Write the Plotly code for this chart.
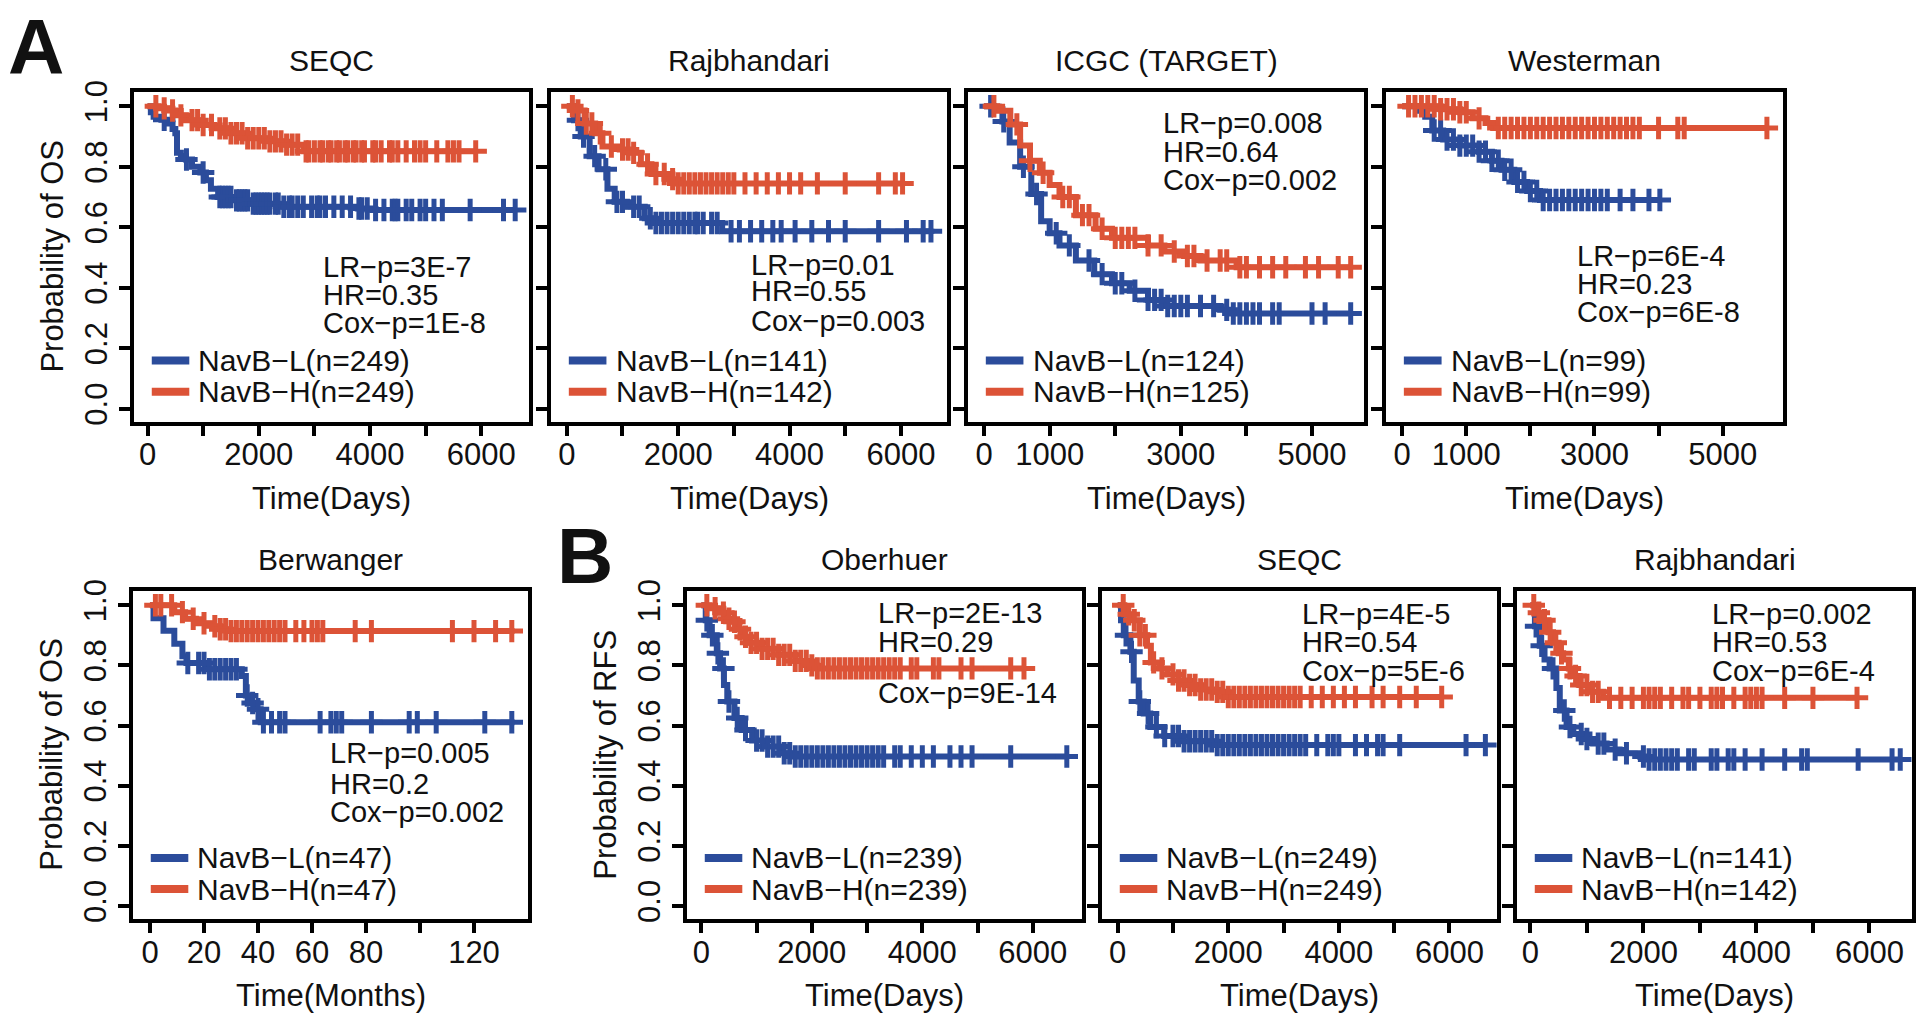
import numpy as np
import plotly.graph_objects as go

BLUE = "#2B4C9B"
RED = "#DC5337"
FONT = "Liberation Sans"
INK = "#111111"

# ---------------- data ----------------
# A: SEQC (OS, days)
A1_L_T = [0, 60, 110, 250, 370, 450, 500, 530, 600, 690, 800, 950, 1050, 1140, 1270, 1530, 1850, 2360,
          3780, 4040]
A1_L_S = [1.0, 0.98, 0.965, 0.955, 0.943, 0.925, 0.911, 0.846, 0.835, 0.824, 0.80, 0.781, 0.755, 0.727,
          0.700, 0.689, 0.678, 0.668, 0.662, 0.657]
A1_L_END = 6610
A1_L_CENS = [300, 700, 1000, 1300, 1350, 1400, 1450, 1500, 1600, 1650, 1700, 1750, 1800, 1900, 1950, 2000,
             2050, 2100, 2150, 2200, 2300, 2350, 2450, 2550, 2600, 2700, 2800, 2950, 3050, 3100, 3200,
             3350, 3500, 3650, 3800, 3850, 3950, 4100, 4250, 4400, 4450, 4500, 4650, 4750, 4900,
             5000, 5150, 5300, 5800, 6400, 6610]
A1_H_T = [0, 200, 370, 500, 690, 950, 1200, 1460, 1720, 2170, 2490, 2810]
A1_H_S = [1.0, 0.993, 0.986, 0.97, 0.954, 0.938, 0.927, 0.911, 0.894, 0.884, 0.873, 0.851]
A1_H_END = 5900
A1_H_CENS = [150, 300, 450, 600, 800, 900, 1000, 1150, 1300, 1400, 1500, 1600, 1700, 1800, 1900, 2000,
             2100, 2200, 2300, 2400, 2500, 2600, 2700, 2850, 2900, 3000, 3100, 3150, 3250, 3300, 3400,
             3450, 3550, 3600, 3700, 3750, 3850, 3900, 4050, 4100, 4200, 4350, 4400, 4500, 4650,
             4800, 4900, 5000, 5200, 5400, 5500, 5600, 5900]

# A: Rajbhandari (OS, days)
A2_L_T = [0, 130, 250, 410, 570, 730, 860, 1080, 1400, 1520, 2790]
A2_L_S = [1.0, 0.954, 0.900, 0.835, 0.792, 0.727, 0.684, 0.668, 0.630, 0.614, 0.587]
A2_L_END = 6540
A2_L_CENS = [200, 300, 500, 700, 900, 1000, 1200, 1300, 1500, 1600, 1700, 1800, 1900, 2000, 2100, 2200,
             2300, 2350, 2450, 2600, 2700, 2950, 3100, 3300, 3500, 3700, 3850, 4100, 4400, 4700, 5000,
             5600, 6100, 6400, 6540]
A2_H_T = [0, 130, 320, 510, 640, 950, 1140, 1330, 1520, 1840, 1970]
A2_H_S = [1.0, 0.986, 0.943, 0.911, 0.867, 0.857, 0.846, 0.808, 0.776, 0.759, 0.745]
A2_H_END = 6030
A2_H_CENS = [100, 200, 350, 450, 600, 800, 1000, 1100, 1200, 1450, 1600, 1750, 1900, 2000, 2100, 2200,
             2300, 2400, 2500, 2600, 2700, 2800, 2900, 3000, 3200, 3400, 3600, 3800, 4000, 4200, 4500,
             5000, 5600, 5900, 6030]

# A: ICGC (TARGET) (OS, days)
A3_L_T = [0, 150, 280, 390, 550, 720, 870, 1000, 1150, 1400, 1680, 1950, 2220, 2500, 2760, 3600, 3750]
A3_L_S = [1.0, 0.99, 0.95, 0.88, 0.80, 0.71, 0.62, 0.58, 0.54, 0.49, 0.445, 0.415, 0.39, 0.36, 0.34,
          0.327, 0.315]
A3_L_END = 5590
A3_L_CENS = [100, 300, 600, 800, 1100, 1300, 1600, 1800, 2000, 2100, 2300, 2500, 2600, 2700, 2800, 2900,
             3000, 3100, 3300, 3500, 3700, 3800, 3900, 4000, 4100, 4200, 4400, 4500, 5000, 5200, 5590]
A3_H_T = [0, 200, 400, 550, 700, 850, 1000, 1150, 1400, 1700, 1950, 2500, 2750, 3050, 3300, 3850]
A3_H_S = [1.0, 0.985, 0.94, 0.87, 0.82, 0.78, 0.74, 0.70, 0.64, 0.595, 0.565, 0.54, 0.52, 0.505,
          0.49, 0.468]
A3_H_END = 5590
A3_H_CENS = [150, 500, 700, 900, 1200, 1300, 1500, 1600, 1800, 2000, 2100, 2200, 2300, 2500, 2700, 2900,
             3100, 3200, 3400, 3600, 3700, 3900, 4000, 4200, 4400, 4600, 4900, 5100, 5400, 5590]

# A: Westerman (OS, days)
A4_L_T = [0, 250, 360, 470, 640, 900, 1200, 1400, 1550, 1750, 1950, 2150]
A4_L_S = [1.0, 0.985, 0.965, 0.92, 0.89, 0.87, 0.85, 0.82, 0.79, 0.75, 0.72, 0.69]
A4_L_END = 4020
A4_L_CENS = [500, 600, 700, 800, 900, 1000, 1100, 1200, 1300, 1400, 1500, 1600, 1700, 1800, 1900, 2000,
             2100, 2200, 2300, 2400, 2500, 2600, 2700, 2800, 2900, 3000, 3100, 3200, 3400, 3600, 3850,
             4020]
A4_H_T = [0, 600, 900, 1100, 1300, 1420]
A4_H_S = [1.0, 0.99, 0.98, 0.96, 0.945, 0.928]
A4_H_END = 5690
A4_H_CENS = [100, 200, 300, 400, 500, 600, 700, 800, 900, 1000, 1200, 1500, 1600, 1700, 1800, 1900, 2000,
             2100, 2200, 2300, 2400, 2500, 2600, 2700, 2800, 2900, 3000, 3100, 3200, 3300, 3400, 3500,
             3600, 3700, 4000, 4300, 4400, 5690]

# A: Berwanger (OS, months)
B1_L_T = [0, 1.3, 5, 9, 12, 13.5, 21, 34, 35.5, 37, 38.5, 41]
B1_L_S = [1.0, 0.957, 0.915, 0.872, 0.83, 0.808, 0.787, 0.765, 0.70, 0.675, 0.654, 0.611]
B1_L_END = 135
B1_L_CENS = [14, 18, 20, 22, 24, 26, 28, 30, 32, 36, 38, 40, 42, 45, 48, 50, 63, 67, 69, 71, 82, 96,
             99, 106, 124, 134]
B1_H_T = [0, 9, 13, 17, 23, 26, 29]
B1_H_S = [1.0, 0.977, 0.955, 0.94, 0.93, 0.92, 0.914]
B1_H_END = 135
B1_H_CENS = [2, 4, 8, 12, 16, 20, 24, 26, 28, 30, 32, 34, 36, 38, 40, 42, 44, 46, 48, 50, 54, 57, 60,
             62, 64, 76, 82, 112, 120, 128, 134]

# B: Oberhuer (RFS, days)
B2_L_T = [0, 80, 150, 280, 340, 410, 470, 600, 730, 920, 1180, 1440, 1640]
B2_L_S = [1.0, 0.95, 0.90, 0.84, 0.79, 0.735, 0.68, 0.625, 0.585, 0.55, 0.53, 0.508, 0.497]
B2_L_END = 6615
B2_L_CENS = [100, 200, 300, 400, 500, 650, 800, 1000, 1100, 1200, 1300, 1400, 1500, 1600, 1700, 1800, 1900,
             2000, 2100, 2200, 2300, 2400, 2500, 2600, 2700, 2800, 2900, 3000, 3100, 3200, 3300, 3500,
             3600, 3800, 4000, 4200, 4500, 4700, 4900, 5600, 6615]
B2_H_T = [0, 150, 300, 450, 550, 650, 750, 850, 1100, 1400, 1700, 1950, 2100]
B2_H_S = [1.0, 0.99, 0.975, 0.955, 0.945, 0.92, 0.895, 0.875, 0.855, 0.835, 0.815, 0.80, 0.79]
B2_H_END = 5840
B2_H_CENS = [100, 250, 400, 500, 600, 700, 800, 900, 1000, 1100, 1200, 1300, 1400, 1500, 1600, 1700, 1800,
             1900, 2000, 2100, 2200, 2300, 2400, 2500, 2600, 2700, 2800, 2900, 3000, 3100, 3200, 3300,
             3400, 3500, 3600, 3800, 3900, 4200, 4300, 4700, 4900, 5600, 5840]

# B: SEQC (RFS, days)
B3_L_T = [0, 60, 110, 230, 290, 380, 470, 590, 840, 1140, 1750]
B3_L_S = [1.0, 0.95, 0.90, 0.845, 0.75, 0.68, 0.64, 0.595, 0.565, 0.548, 0.535]
B3_L_END = 6650
B3_L_CENS = [150, 250, 400, 550, 700, 850, 1000, 1100, 1200, 1300, 1400, 1500, 1600, 1700, 1800, 1900,
             2000, 2100, 2200, 2300, 2400, 2500, 2600, 2700, 2800, 2900, 3000, 3100, 3200, 3300, 3400,
             3600, 3800, 3900, 4000, 4300, 4500, 4700, 4800, 5100, 6300, 6650]
B3_H_T = [0, 120, 230, 400, 530, 600, 750, 900, 1100, 1250, 1500, 1750, 1980]
B3_H_S = [1.0, 0.97, 0.95, 0.90, 0.865, 0.81, 0.79, 0.77, 0.75, 0.735, 0.72, 0.712, 0.695]
B3_H_END = 5860
B3_H_CENS = [100, 200, 300, 400, 500, 650, 800, 1000, 1100, 1200, 1300, 1400, 1500, 1600, 1700, 1800,
             1900, 2000, 2100, 2200, 2300, 2400, 2500, 2600, 2700, 2800, 2900, 3000, 3100, 3200, 3300,
             3500, 3700, 3900, 4100, 4300, 4600, 4800, 5100, 5400, 5860]

# B: Rajbhandari (RFS, days)
B4_L_T = [0, 80, 165, 250, 340, 460, 520, 640, 760, 950, 1110, 1350, 1580, 1940, 2060]
B4_L_S = [1.0, 0.93, 0.865, 0.82, 0.79, 0.725, 0.65, 0.595, 0.572, 0.555, 0.54, 0.52, 0.508, 0.497,
          0.487]
B4_L_END = 6545
B4_L_CENS = [100, 200, 400, 600, 700, 900, 1000, 1200, 1300, 1500, 1700, 2000, 2100, 2200, 2300, 2400,
             2500, 2600, 2800, 2900, 3200, 3300, 3500, 3600, 3800, 4100, 4500, 4800, 4900, 5800, 6400,
             6545]
B4_H_T = [0, 120, 220, 320, 400, 500, 580, 680, 760, 870, 1050, 1290]
B4_H_S = [1.0, 0.975, 0.95, 0.91, 0.875, 0.84, 0.82, 0.79, 0.765, 0.735, 0.712, 0.692]
B4_H_END = 5780
B4_H_CENS = [60, 150, 250, 350, 450, 550, 700, 800, 900, 1000, 1100, 1200, 1400, 1600, 1800, 2000, 2100,
             2200, 2300, 2500, 2700, 2800, 3000, 3200, 3300, 3400, 3600, 3800, 3900, 4000, 4100, 4500,
             5000, 5780]

# tick labels
DAY_TICKS_6K = [0, 1000, 2000, 3000, 4000, 5000, 6000]
DAY_LABELS_6K = ["0", "", "2000", "", "4000", "", "6000"]
DAY_TICKS_5K = [0, 1000, 2000, 3000, 4000, 5000]
DAY_LABELS_5K = ["0", "1000", "", "3000", "", "5000"]
MONTH_TICKS = [0, 20, 40, 60, 80, 100, 120]
MONTH_LABELS = ["0", "20", "40", "60", "80", "", "120"]
PROB_TICKS = [0, 0.2, 0.4, 0.6, 0.8, 1.0]
PROB_LABELS = ["0.0", "0.2", "0.4", "0.6", "0.8", "1.0"]

TITLES = ["SEQC", "Rajbhandari", "ICGC (TARGET)", "Westerman", "Berwanger", "Oberhuer", "SEQC", "Rajbhandari"]
STATS = [
    ["LR−p=3E-7", "HR=0.35", "Cox−p=1E-8"],
    ["LR−p=0.01", "HR=0.55", "Cox−p=0.003"],
    ["LR−p=0.008", "HR=0.64", "Cox−p=0.002"],
    ["LR−p=6E-4", "HR=0.23", "Cox−p=6E-8"],
    ["LR−p=0.005", "HR=0.2", "Cox−p=0.002"],
    ["LR−p=2E-13", "HR=0.29", "Cox−p=9E-14"],
    ["LR−p=4E-5", "HR=0.54", "Cox−p=5E-6"],
    ["LR−p=0.002", "HR=0.53", "Cox−p=6E-4"],
]
N_L = [249, 141, 124, 99, 47, 239, 249, 141]
N_H = [249, 142, 125, 99, 47, 239, 249, 142]

CURVES = [
    (A1_L_T, A1_L_S, A1_L_END, A1_L_CENS, A1_H_T, A1_H_S, A1_H_END, A1_H_CENS),
    (A2_L_T, A2_L_S, A2_L_END, A2_L_CENS, A2_H_T, A2_H_S, A2_H_END, A2_H_CENS),
    (A3_L_T, A3_L_S, A3_L_END, A3_L_CENS, A3_H_T, A3_H_S, A3_H_END, A3_H_CENS),
    (A4_L_T, A4_L_S, A4_L_END, A4_L_CENS, A4_H_T, A4_H_S, A4_H_END, A4_H_CENS),
    (B1_L_T, B1_L_S, B1_L_END, B1_L_CENS, B1_H_T, B1_H_S, B1_H_END, B1_H_CENS),
    (B2_L_T, B2_L_S, B2_L_END, B2_L_CENS, B2_H_T, B2_H_S, B2_H_END, B2_H_CENS),
    (B3_L_T, B3_L_S, B3_L_END, B3_L_CENS, B3_H_T, B3_H_S, B3_H_END, B3_H_CENS),
    (B4_L_T, B4_L_S, B4_L_END, B4_L_CENS, B4_H_T, B4_H_S, B4_H_END, B4_H_CENS),
]

# ---------------- layout (pixels in the 1920x1024 page) ----------------
W, H = 1920, 1024
BOXES = [(134, 529, 81, 416), (551, 947, 81, 416), (968, 1364, 81, 416), (1386, 1783, 81, 416),
         (133, 528, 588, 921), (687, 1082, 588, 921), (1102, 1497, 588, 921), (1517, 1912, 588, 921)]
XRANGES = [(-243, 6858), (-284, 6828), (-245, 5793), (-252, 5941),
           (-6.3, 140), (-259, 6890), (-284, 6860), (-237, 6753)]
XTICKS = [(DAY_TICKS_6K, DAY_LABELS_6K), (DAY_TICKS_6K, DAY_LABELS_6K), (DAY_TICKS_5K, DAY_LABELS_5K),
          (DAY_TICKS_5K, DAY_LABELS_5K), (MONTH_TICKS, MONTH_LABELS), (DAY_TICKS_6K, DAY_LABELS_6K),
          (DAY_TICKS_6K, DAY_LABELS_6K), (DAY_TICKS_6K, DAY_LABELS_6K)]
XTITLES = ["Time(Days)"] * 4 + ["Time(Months)"] + ["Time(Days)"] * 3
YTITLES = {0: "Probability of OS", 4: "Probability of OS", 5: "Probability of RFS"}
STAT_X = [321, 749, 1161, 1575, 328, 876, 1300, 1710]
STAT_Y = [(259, 287.5, 316), (257, 283, 314), (113, 142.5, 171), (248, 276, 305),
          (753, 784, 812.5), (611, 640, 692), (612, 640, 669), (612, 640, 669)]


def km_at(t, s, x):
    idx = np.searchsorted(np.asarray(t), np.asarray(x), side="right") - 1
    return np.asarray(s)[idx]


fig = go.Figure()
annotations = []
shapes = []
layout = {}

for i, (box, curves) in enumerate(zip(BOXES, CURVES)):
    n = i + 1
    sx = "" if n == 1 else str(n)
    xref, yref = "x" + sx, "y" + sx
    left, right, top, bottom = box
    tL, sL, eL, cL, tH, sH, eH, cH = curves

    for t, s, end, cens, col in ((tL, sL, eL, cL, BLUE), (tH, sH, eH, cH, RED)):
        fig.add_trace(go.Scatter(x=list(t) + [end], y=list(s) + [s[-1]], mode="lines",
                                 line=dict(color=col, width=6, shape="hv"),
                                 xaxis=xref, yaxis=yref, showlegend=False, hoverinfo="skip"))
        fig.add_trace(go.Scatter(x=cens, y=km_at(t, s, cens), mode="markers",
                                 marker=dict(symbol="cross-thin", size=16, color=col,
                                             line=dict(color=col, width=5)),
                                 xaxis=xref, yaxis=yref, showlegend=False, hoverinfo="skip"))

    tv, tt = XTICKS[i]
    axis_common = dict(showline=True, mirror=True, linewidth=3.5, linecolor="black", showgrid=False,
                       zeroline=False, ticks="outside", ticklen=11, tickwidth=3.5, tickcolor="black",
                       tickfont=dict(family=FONT, size=31, color=INK))
    layout["xaxis" + sx] = dict(axis_common, domain=[left / W, right / W], range=list(XRANGES[i]),
                                tickmode="array", tickvals=tv, ticktext=tt, anchor=yref,
                                ticklabelstandoff=-8)
    layout["yaxis" + sx] = dict(axis_common, domain=[1 - bottom / H, 1 - top / H],
                                range=[-0.042, 1.048], tickmode="array", tickvals=PROB_TICKS,
                                ticktext=PROB_LABELS, tickangle=-90, anchor=xref,
                                showticklabels=i in YTITLES, ticklabelstandoff=0)

    def frac_y(py):
        return (bottom - py) / (bottom - top)

    # panel title
    annotations.append(dict(text=TITLES[i], xref=xref + " domain", yref=yref + " domain", x=0.5,
                            y=frac_y(top - 32), xanchor="center", yanchor="middle", showarrow=False,
                            font=dict(family=FONT, size=30, color=INK)))
    # x title
    annotations.append(dict(text=XTITLES[i], xref=xref + " domain", yref=yref + " domain", x=0.5,
                            y=frac_y(bottom + 78), xanchor="center", yanchor="middle", showarrow=False,
                            font=dict(family=FONT, size=31, color=INK)))
    if i in YTITLES:
        annotations.append(dict(text=YTITLES[i], xref="paper", yref=yref + " domain",
                                x=(left - 81) / W, y=0.5, xanchor="center", yanchor="middle",
                                textangle=-90, showarrow=False,
                                font=dict(family=FONT, size=31, color=INK)))
    # statistics
    for line, py in zip(STATS[i], STAT_Y[i]):
        annotations.append(dict(text=line, xref=xref + " domain", yref=yref + " domain",
                                x=(STAT_X[i] - left) / (right - left), y=frac_y(py),
                                xanchor="left", yanchor="middle", showarrow=False,
                                font=dict(family=FONT, size=29, color=INK)))
    # legend
    for label, col, ly in ((f"NavB−L(n={N_L[i]})", BLUE, 0.185), (f"NavB−H(n={N_H[i]})", RED, 0.09)):
        shapes.append(dict(type="line", xref=xref + " domain", yref=yref + " domain",
                           x0=0.045, x1=0.14, y0=ly, y1=ly, line=dict(color=col, width=8)))
        annotations.append(dict(text=label, xref=xref + " domain", yref=yref + " domain",
                                x=0.158, y=ly, xanchor="left", yanchor="middle", showarrow=False,
                                font=dict(family=FONT, size=30, color=INK)))

# panel letters
for letter, px, py in (("A", 36, 36), ("B", 585, 553)):
    annotations.append(dict(text=f"<b>{letter}</b>", xref="paper", yref="paper", x=px / W, y=1 - py / H,
                            xanchor="center", yanchor="middle", showarrow=False,
                            font=dict(family=FONT, size=78, color=INK)))

fig.update_layout(width=W, height=H, margin=dict(l=0, r=0, t=0, b=0), paper_bgcolor="white",
                  plot_bgcolor="white", showlegend=False, annotations=annotations, shapes=shapes,
                  **layout)
fig.write_html("out.html", config={"displayModeBar": False},
               post_script="document.body.style.margin='0';document.body.style.overflow='hidden';")
